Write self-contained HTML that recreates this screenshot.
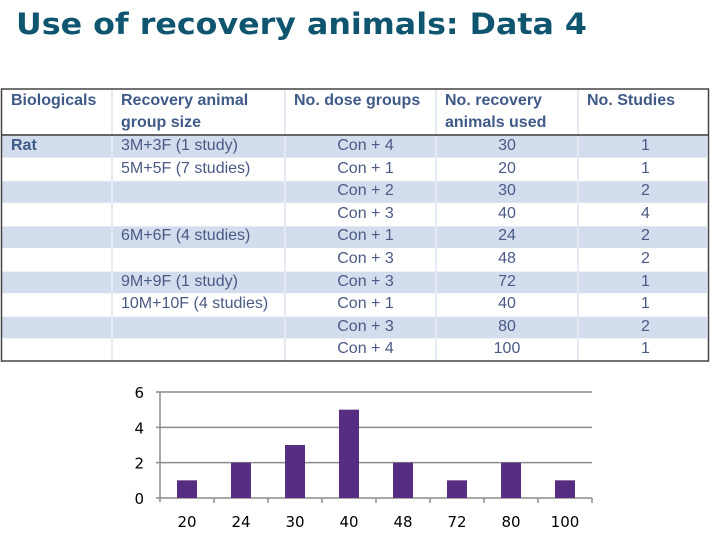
<!DOCTYPE html>
<html><head><meta charset="utf-8"><style>
body{margin:0;width:720px;height:540px;background:#fff;overflow:hidden;position:relative;font-family:"Liberation Sans",sans-serif}
.c{position:absolute;font-size:16px;color:#4a5a85;white-space:nowrap;line-height:22px}
.h{font-weight:bold;color:#3f5a88;line-height:22px}
</style></head><body>
<svg width="720" height="540" style="position:absolute;left:0;top:0">
<text x="16" y="34" textLength="571" lengthAdjust="spacingAndGlyphs" font-family="DejaVu Sans,sans-serif" font-weight="bold" font-size="29" fill="#0f5570">Use of recovery animals: Data 4</text>
<g id="table"></g>
<g id="chart"></g>
</svg>
<div id="cells"></div>
<script>
const NS="http://www.w3.org/2000/svg";
const cols=[2,112,285,436,578,708];
const headers=[["Biologicals",""],["Recovery animal","group size"],["No. dose groups",""],["No. recovery","animals used"],["No. Studies",""]];
const colB=["Rat","","","","","","","","",""];
const colR=["3M+3F  (1 study)","5M+5F  (7 studies)","","","6M+6F  (4 studies)","","9M+9F  (1 study)","10M+10F  (4 studies)","",""];
const colD=["Con + 4","Con + 1","Con + 2","Con + 3","Con + 1","Con + 3","Con + 3","Con + 1","Con + 3","Con + 4"];
const colN=["30","20","30","40","24","48","72","40","80","100"];
const colS=["1","1","2","4","2","2","1","1","2","1"];
const tbl=document.getElementById('table');
const top0=89,hdrB=135,rowH=22.6;
for(let i=0;i<10;i++){
  const y=hdrB+i*rowH;
  if(i%2===0){for(let c=0;c<5;c++){const r=document.createElementNS(NS,'rect');
    r.setAttribute('x',cols[c]+(c?1:0));r.setAttribute('y',y+1);r.setAttribute('width',cols[c+1]-cols[c]-(c?2:1));r.setAttribute('height',rowH-1);r.setAttribute('fill','#d3ddee');
    
    
    tbl.appendChild(r);}}
}
for(let c=1;c<5;c++){const l=document.createElementNS(NS,'line');l.setAttribute('x1',cols[c]);l.setAttribute('x2',cols[c]);l.setAttribute('y1',top0);l.setAttribute('y2',361);l.setAttribute('stroke','#e6ebf3');l.setAttribute('stroke-width','2');


tbl.appendChild(l);}
const hl=document.createElementNS(NS,'line');hl.setAttribute('x1',2);hl.setAttribute('x2',708);hl.setAttribute('y1',hdrB);hl.setAttribute('y2',hdrB);hl.setAttribute('stroke','#333');hl.setAttribute('stroke-width','1.5');


tbl.appendChild(hl);
const br=document.createElementNS(NS,'rect');br.setAttribute('x',1.5);br.setAttribute('y',top0);br.setAttribute('width',707);br.setAttribute('height',272);br.setAttribute('fill','none');br.setAttribute('stroke','#444');br.setAttribute('stroke-width','1.5');


tbl.appendChild(br);
const cells=document.getElementById('cells');
function addCell(txt,x,y,w,cls,align){const d=document.createElement('div');d.className=cls;d.textContent=txt;
 d.style.left=x+'px';d.style.top=y+'px';if(w){d.style.width=w+'px';d.style.textAlign=align;}
 
 
 cells.appendChild(d);}
headers.forEach((h,c)=>{addCell(h[0],cols[c]+9,90,0,'c h');if(h[1])addCell(h[1],cols[c]+9,112,0,'c h');});
for(let i=0;i<10;i++){const y=hdrB+i*rowH;
 if(colB[i])addCell(colB[i],11,y,0,'c h');
 if(colR[i])addCell(colR[i],121,y,0,'c');
 addCell(colD[i],cols[2]+10,y,cols[3]-cols[2]-10,'c','center');
 addCell(colN[i],cols[3],y,cols[4]-cols[3],'c','center');
 addCell(colS[i],cols[4]+5,y,cols[5]-cols[4]-5,'c','center');}

// chart
const cats=["20","24","30","40","48","72","80","100"];
const vals=[1,2,3,5,2,1,2,1];
const yTicks=[0,2,4,6];
const ch=document.getElementById('chart');
const x0=160,x1=592,yb=498,yt=392,ymax=6;
const yS=v=>yb-(v/ymax)*(yb-yt);
const bw=(x1-x0)/cats.length;
yTicks.forEach(t=>{const l=document.createElementNS(NS,'line');l.setAttribute('x1',x0-4);l.setAttribute('x2',x1);l.setAttribute('y1',yS(t));l.setAttribute('y2',yS(t));l.setAttribute('stroke','#8c8c8c');l.setAttribute('stroke-width','1.5');
 
 
 ch.appendChild(l);
 const tx=document.createElementNS(NS,'text');tx.setAttribute('x',144);tx.setAttribute('y',yS(t)+6);tx.setAttribute('text-anchor','end');tx.setAttribute('font-family','DejaVu Sans,sans-serif');tx.setAttribute('font-size','15');tx.textContent=t;
 
 
 ch.appendChild(tx);});
const ax=document.createElementNS(NS,'line');ax.setAttribute('x1',x0);ax.setAttribute('x2',x0);ax.setAttribute('y1',yt);ax.setAttribute('y2',yb+4);ax.setAttribute('stroke','#8c8c8c');ax.setAttribute('stroke-width','1.5');


ch.appendChild(ax);
cats.forEach((c,i)=>{const cx=x0+bw*(i+0.5);
 const tk=document.createElementNS(NS,'line');tk.setAttribute('x1',x0+bw*(i+1));tk.setAttribute('x2',x0+bw*(i+1));tk.setAttribute('y1',yb);tk.setAttribute('y2',yb+5);tk.setAttribute('stroke','#8c8c8c');tk.setAttribute('stroke-width','1.5');
 
 
 ch.appendChild(tk);
 const r=document.createElementNS(NS,'rect');r.setAttribute('x',cx-10);r.setAttribute('width',20);r.setAttribute('y',yS(vals[i]));r.setAttribute('height',yb-yS(vals[i]));r.setAttribute('fill','#562d80');
 
 
 ch.appendChild(r);
 const tx=document.createElementNS(NS,'text');tx.setAttribute('x',cx);tx.setAttribute('y',527);tx.setAttribute('text-anchor','middle');tx.setAttribute('font-family','DejaVu Sans,sans-serif');tx.setAttribute('font-size','15');tx.textContent=c;
 
 
 ch.appendChild(tx);});
</script>
</body></html>
